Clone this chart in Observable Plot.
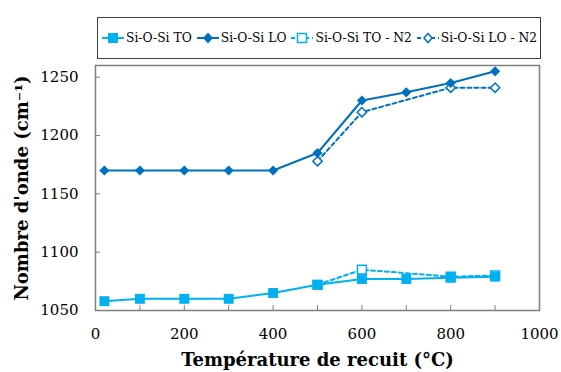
<!DOCTYPE html>
<html>
<head>
<meta charset="utf-8">
<script src="https://cdn.jsdelivr.net/npm/d3@7"></script>
<script src="https://cdn.jsdelivr.net/npm/@observablehq/plot@0.6"></script>
<style>
  html, body { margin: 0; padding: 0; background: #fff; }
  #wrap { position: relative; width: 561px; height: 372px; font-family: "DejaVu Serif", serif; }
  #legend { position: absolute; left: 97px; top: 17px; width: 444px; height: 42px; border: 1px solid #404040; box-sizing: border-box;
            display: flex; align-items: center; padding-left: 4px; font-size: 12.3px; color: #000; }
  .item { display: flex; align-items: center; margin-right: 5px; white-space: nowrap; }
  .item svg { margin-right: 2px; }
  #chart { position: absolute; left: 0; top: 0; }
</style>
</head>
<body>
<div id="wrap">
  <div id="chart"></div>
  <div id="legend"></div>
</div>
<script>
// Data
const temps = [20, 100, 200, 300, 400, 500, 600, 700, 800, 900];
const toValues = [1058, 1060, 1060, 1060, 1065, 1072, 1077, 1077, 1078, 1079];
const loValues = [1170, 1170, 1170, 1170, 1170, 1185, 1230, 1237, 1245, 1255];
const n2Temps = [500, 600, 800, 900];
const toN2Values = [1072, 1085, 1079, 1080];
const loN2Values = [1178, 1220, 1241, 1241];

const seriesNames = ["Si-O-Si TO", "Si-O-Si LO", "Si-O-Si TO - N2", "Si-O-Si LO - N2"];
const seriesColors = ["#00B0F0", "#0070C0", "#00B0F0", "#0070C0"];
const xTickValues = [0, 100, 200, 300, 400, 500, 600, 700, 800, 900, 1000];
const xLabelValues = [0, 200, 400, 600, 800, 1000];
const yTickValues = [1050, 1100, 1150, 1200, 1250];
const xTitle = "Température de recuit (°C)";
const yTitle = "Nombre d'onde (cm⁻¹)";

const to = temps.map((t, i) => ({t, v: toValues[i]}));
const lo = temps.map((t, i) => ({t, v: loValues[i]}));
const toN2 = n2Temps.map((t, i) => ({t, v: toN2Values[i]}));
const loN2 = n2Temps.map((t, i) => ({t, v: loN2Values[i]}));

const gray = "#7f7f7f";
const chart = Plot.plot({
  width: 561, height: 372,
  marginLeft: 95, marginRight: 22, marginTop: 65, marginBottom: 62,
  style: {fontFamily: "DejaVu Serif, serif", fontSize: "15px", color: "#000", background: "transparent", overflow: "visible"},
  x: {domain: [0, 1000]},
  y: {domain: [1050, 1260]},
  marks: [
    // inward tick marks
    Plot.axisX({ticks: xTickValues, tickSize: -5, stroke: gray, strokeOpacity: 1, tickFormat: () => "", label: null}),
    Plot.axisY({ticks: yTickValues, tickSize: -5, stroke: gray, strokeOpacity: 1, tickFormat: () => "", label: null}),
    // tick labels
    Plot.axisX({ticks: xLabelValues, tickSize: 0, tickPadding: 18, tickFormat: d => String(d), label: null, fill: "#000"}),
    Plot.axisY({ticks: yTickValues, tickSize: 0, tickPadding: 17, tickFormat: d => String(d), label: null, fill: "#000"}),
    Plot.frame({stroke: gray, strokeWidth: 1.5}),
    // N2 series (dashed, open markers)
    Plot.line(toN2, {x: "t", y: "v", stroke: seriesColors[2], strokeWidth: 2, strokeDasharray: "4,3"}),
    Plot.line(loN2, {x: "t", y: "v", stroke: seriesColors[3], strokeWidth: 2, strokeDasharray: "4,3"}),
    // solid series
    Plot.line(to, {x: "t", y: "v", stroke: seriesColors[0], strokeWidth: 2}),
    Plot.line(lo, {x: "t", y: "v", stroke: seriesColors[1], strokeWidth: 2}),
    Plot.dot(toN2, {x: "t", y: "v", symbol: "square", r: 5, stroke: seriesColors[2], fill: "#fff", strokeWidth: 1.5}),
    Plot.dot(loN2, {x: "t", y: "v", symbol: "diamond2", r: 4.2, stroke: seriesColors[3], fill: "#fff", strokeWidth: 1.5}),
    Plot.dot(to, {x: "t", y: "v", symbol: "square", r: 5.6, fill: seriesColors[0], stroke: "none"}),
    Plot.dot(lo, {x: "t", y: "v", symbol: "diamond2", r: 4.6, fill: seriesColors[1], stroke: "none"}),
    Plot.text([yTitle], {text: d => d, frameAnchor: "left", textAnchor: "middle", rotate: -90, dx: -73, fontWeight: "bold", fontSize: 18, fill: "#000"}),
    Plot.text([xTitle], {text: d => d, frameAnchor: "bottom", dy: 55, fontWeight: "bold", fontSize: 18, fill: "#000"})
  ]
});
document.getElementById("chart").appendChild(chart);

// Legend
const legend = document.getElementById("legend");
const kinds = [
  {filled: true, sym: "square"}, {filled: true, sym: "diamond"},
  {filled: false, sym: "square"}, {filled: false, sym: "diamond"}
];
seriesNames.forEach((name, i) => {
  const item = document.createElement("div");
  item.className = "item";
  const c = seriesColors[i];
  const k = kinds[i];
  const dash = k.filled ? "" : ' stroke-dasharray="4,3"';
  let marker;
  if (k.sym === "square") {
    marker = k.filled
      ? `<rect x="6" y="2" width="10" height="10" fill="${c}"/>`
      : `<rect x="6.5" y="2.5" width="9" height="9" fill="#fff" stroke="${c}" stroke-width="1.5"/>`;
  } else {
    marker = k.filled
      ? `<path d="M11,1.5L16,7L11,12.5L6,7Z" fill="${c}"/>`
      : `<path d="M11,2.5L15,7L11,11.5L7,7Z" fill="#fff" stroke="${c}" stroke-width="1.5"/>`;
  }
  item.innerHTML = `<svg width="22" height="14"><line x1="0" x2="22" y1="7" y2="7" stroke="${c}" stroke-width="2"${dash}/>${marker}</svg><span>${name}</span>`;
  legend.appendChild(item);
});
</script>
</body>
</html>
